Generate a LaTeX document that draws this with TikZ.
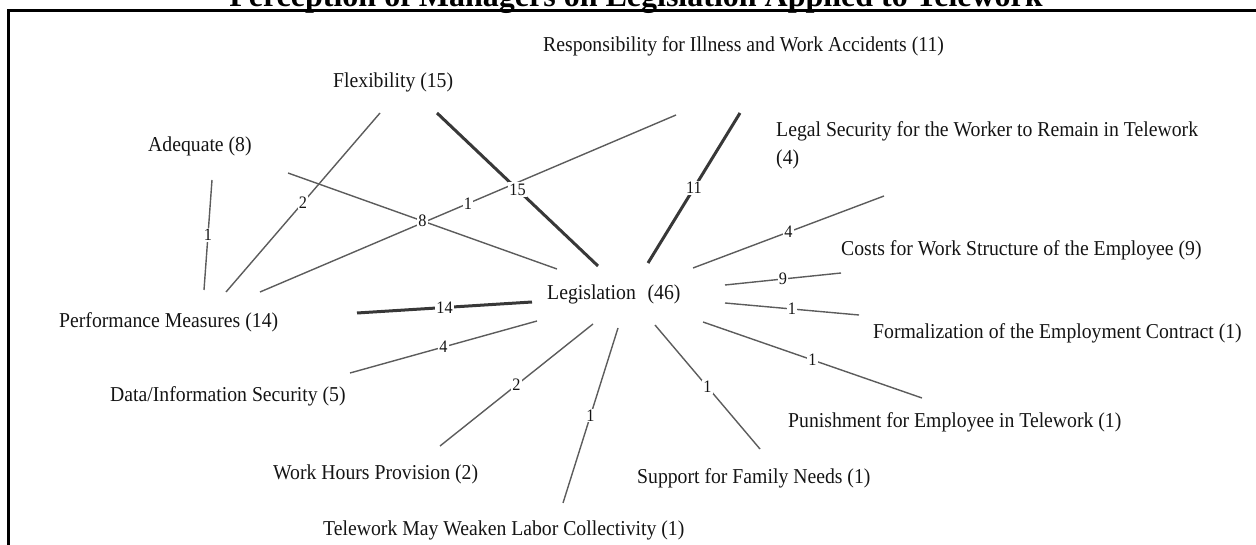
\documentclass[tikz,border=0pt]{standalone}
\usepackage{fontspec}
\setmainfont{Liberation Serif}
\newfontfamily\labelfont{Liberation Serif}[FakeStretch=0.93]
\begin{document}
\begin{tikzpicture}[x=1pt,y=-1pt,
  term/.style={anchor=base west, inner sep=0pt, text=black!92,
               font=\labelfont\fontsize{21.2}{28}\selectfont},
  num/.style={fill=white, inner sep=1.2pt, text=black!92,
              font=\labelfont\fontsize{17.5}{20}\selectfont},
  link/.style={draw=black!64, line width=1.4pt},
  heavy/.style={draw=black!78, line width=3pt},
  frame/.style={draw=black, line width=2.7pt}]
\useasboundingbox (0,0) rectangle (1256,545);

% title (its upper part runs off the page)
\node[anchor=base, inner sep=0pt, font=\bfseries\fontsize{32}{38}\selectfont]
  (title) at (636,7) {Perception of Managers on Legislation Applied to Telework};
\draw[frame] (8.7,560) -- (8.7,10.5) -- (1270,10.5);

% concepts
\node[term] (leg)     at (547,300) {Legislation\hspace{0.55em}(46)};
\node[term] (resp)    at (543,52)  {Responsibility for Illness and Work Accidents (11)};
\node[term] (flex)    at (333,88)  {Flexibility (15)};
\node[term] (adeq)    at (148,152) {Adequate (8)};
\node[term, anchor=north west, align=left] (legal) at (776,121)
  {Legal Security for the Worker to Remain in Telework\\(4)};
\node[term] (costs)   at (841,256) {Costs for Work Structure of the Employee (9)};
\node[term] (formal)  at (873,338) {Formalization of the Employment Contract (1)};
\node[term] (punish)  at (788,427) {Punishment for Employee in Telework (1)};
\node[term] (support) at (637,483) {Support for Family Needs (1)};
\node[term] (telew)   at (323,535) {Telework May Weaken Labor Collectivity (1)};
\node[term] (hours)   at (273,479) {Work Hours Provision (2)};
\node[term] (data)    at (110,401) {Data/Information Security (5)};
\node[term] (perf)    at (59,327)  {Performance Measures (14)};

% connector ends
\coordinate (adeq-perf-1)   at (212,180); \coordinate (adeq-perf-2)   at (204,290);
\coordinate (flex-perf-1)   at (380,113); \coordinate (flex-perf-2)   at (226,292);
\coordinate (perf-resp-1)   at (260,292); \coordinate (perf-resp-2)   at (676,115);
\coordinate (adeq-leg-1)    at (288,173); \coordinate (adeq-leg-2)    at (557,269);
\coordinate (flex-leg-1)    at (437,113); \coordinate (flex-leg-2)    at (598,266);
\coordinate (resp-leg-1)    at (740,113); \coordinate (resp-leg-2)    at (648,263);
\coordinate (legal-leg-1)   at (884,196); \coordinate (legal-leg-2)   at (693,268);
\coordinate (costs-leg-1)   at (841,273); \coordinate (costs-leg-2)   at (725,285);
\coordinate (formal-leg-1)  at (859,315); \coordinate (formal-leg-2)  at (725,303);
\coordinate (punish-leg-1)  at (922,398); \coordinate (punish-leg-2)  at (703,322);
\coordinate (support-leg-1) at (760,449); \coordinate (support-leg-2) at (655,325);
\coordinate (telew-leg-1)   at (563,503); \coordinate (telew-leg-2)   at (618,328);
\coordinate (hours-leg-1)   at (440,446); \coordinate (hours-leg-2)   at (593,324);
\coordinate (data-leg-1)    at (350,373); \coordinate (data-leg-2)    at (537,321);
\coordinate (perf-leg-1)    at (357,313); \coordinate (perf-leg-2)    at (532,302);

% connectors with their counts
\draw[link]  (adeq-perf-1)   -- node[num]{1}  (adeq-perf-2);
\draw[link]  (flex-perf-1)   -- node[num]{2}  (flex-perf-2);
\draw[link]  (perf-resp-1)   -- node[num]{1}  (perf-resp-2);
\draw[link]  (adeq-leg-1)    -- node[num]{8}  (adeq-leg-2);
\draw[heavy] (flex-leg-1)    -- node[num]{15} (flex-leg-2);
\draw[heavy] (resp-leg-1)    -- node[num]{11} (resp-leg-2);
\draw[link]  (legal-leg-1)   -- node[num]{4}  (legal-leg-2);
\draw[link]  (costs-leg-1)   -- node[num]{9}  (costs-leg-2);
\draw[link]  (formal-leg-1)  -- node[num]{1}  (formal-leg-2);
\draw[link]  (punish-leg-1)  -- node[num]{1}  (punish-leg-2);
\draw[link]  (support-leg-1) -- node[num]{1}  (support-leg-2);
\draw[link]  (telew-leg-1)   -- node[num]{1}  (telew-leg-2);
\draw[link]  (hours-leg-1)   -- node[num]{2}  (hours-leg-2);
\draw[link]  (data-leg-1)    -- node[num]{4}  (data-leg-2);
\draw[heavy] (perf-leg-1)    -- node[num]{14} (perf-leg-2);
\end{tikzpicture}
\end{document}
